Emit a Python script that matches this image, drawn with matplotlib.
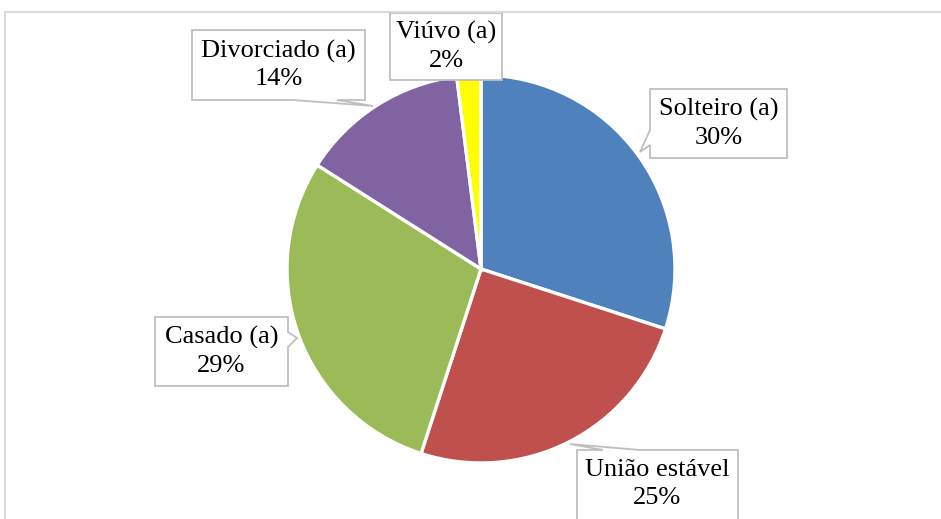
import matplotlib.pyplot as plt
from matplotlib.patches import Polygon, Rectangle

W, H = 941, 519

labels = ["Solteiro (a)", "União estável", "Casado (a)", "Divorciado (a)", "Viúvo (a)"]
values = [30, 25, 29, 14, 2]
colors = ["#4F81BD", "#C0504D", "#9BBB59", "#8064A2", "#FFFF00"]

# pie center / radius in pixels
CX, CY, R = 481, 269, 194

# callout boxes in pixels: (left, top, right, bottom, pointer side, pointer points)
CALLOUTS = [
    (650, 89, 787, 158, "left", [(650, 130), (640, 152), (650, 145)]),
    (577, 450, 738, 520, "top", [(603, 450), (570, 444), (640, 450)]),
    (155, 317, 288, 386, "right", [(288, 332), (297, 338), (288, 347)]),
    (192, 30, 365, 100, "bottom", [(293, 100), (373, 106), (337, 100)]),
    (390, 13, 502, 80, None, []),
]


def px(x, y):
    return ((x - CX) / R, (CY - y) / R)


def callout_path(l, t, r, b, side, ptr):
    corners = {
        "top": [(l, t)] + ptr + [(r, t), (r, b), (l, b)],
        "right": [(l, t), (r, t)] + ptr + [(r, b), (l, b)],
        "bottom": [(l, t), (r, t), (r, b)] + ptr[::-1] + [(l, b)],
        "left": [(l, t), (r, t), (r, b), (l, b)] + ptr[::-1],
        None: [(l, t), (r, t), (r, b), (l, b)],
    }
    return [px(x, y) for x, y in corners[side]]


fig = plt.figure(figsize=(W / 100, H / 100), dpi=100)
ax = fig.add_axes([0, 0, 1, 1])

ax.pie(values, colors=colors, startangle=90, counterclock=False, radius=1,
       wedgeprops=dict(edgecolor="white", linewidth=2.4))

ax.set_xlim(-CX / R, (W - CX) / R)
ax.set_ylim(-(H - CY) / R, CY / R)
ax.set_aspect("equal")
ax.axis("off")

for (l, t, r, b, side, ptr), lab, v in zip(CALLOUTS, labels, values):
    poly = Polygon(callout_path(l, t, r, b, side, ptr), closed=True,
                   facecolor="white", edgecolor="#BFBFBF", lw=1.3, zorder=5,
                   clip_on=False)
    ax.add_patch(poly)
    cx, cy = px((l + r) / 2, (t + b) / 2)
    if side == "top":
        cy = px(0, 484)[1]
    ax.text(cx, cy, f"{lab}\n{v}%", ha="center", va="center", fontsize=19,
            family="Liberation Serif", linespacing=1.3, zorder=6)

# chart area frame
fig.add_artist(Rectangle((5 / W, -0.1), 1.2, (H - 12) / H + 0.1,
                         transform=fig.transFigure, fill=False,
                         edgecolor="#D9D9D9", lw=1.5))

fig.savefig("out.png", dpi=100)
